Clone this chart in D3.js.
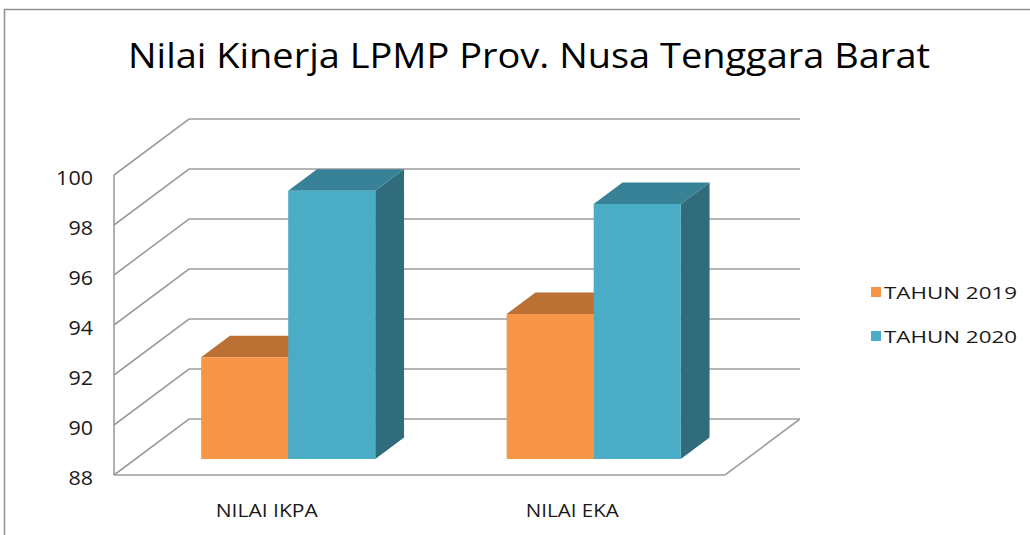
<!DOCTYPE html>
<html>
<head>
<meta charset="utf-8">
<script src="https://cdn.jsdelivr.net/npm/d3@7"></script>
<style>
  html, body { margin: 0; padding: 0; background: #fff; }
  svg { display: block; }
  text { font-family: "Open Sans", "Noto Sans", sans-serif; fill: #1a1a1a; }
</style>
</head>
<body>
<div id="chart"></div>
<script>
// Data
const categories = ["NILAI IKPA", "NILAI EKA"];
const seriesNames = ["TAHUN 2019", "TAHUN 2020"];
const values2019 = [92.07, 93.8];
const values2020 = [98.73, 98.2];
const yTicks = [88, 90, 92, 94, 96, 98, 100];

const colors = {
    "TAHUN 2019": { front: "#F79646", top: "#BA7133", side: "#B66C2E" },
    "TAHUN 2020": { front: "#4BACC6", top: "#378296", side: "#316C7C" }
};

const width = 1030, height = 535;
const svg = d3.select("#chart").append("svg")
    .attr("width", width)
    .attr("height", height);

// outer frame
svg.append("rect")
    .attr("x", 4.5).attr("y", 9.5)
    .attr("width", 1100).attr("height", 600)
    .attr("fill", "none")
    .attr("stroke", "#8f8f8f")
    .attr("stroke-width", 1.5);

// title (reference text is a bit stretched, so fit to its width)
svg.append("text")
    .attr("x", 529).attr("y", 68)
    .attr("text-anchor", "middle")
    .attr("font-size", 34)
    .attr("textLength", 802)
    .attr("lengthAdjust", "spacingAndGlyphs")
    .style("fill", "#000")
    .text("Nilai Kinerja LPMP Prov. Nusa Tenggara Barat");

// scales
const y = d3.scaleLinear().domain([88, 100]).range([475, 175]);
const x0 = d3.scaleBand().domain(categories).range([114, 725]);
const bw = x0.bandwidth();
const groupW = bw * 0.57;
const x1 = d3.scaleBand().domain(seriesNames).range([(bw - groupW) / 2, (bw + groupW) / 2]);

// depth of the 3D box
const DX = 75, DY = 56;
const proj = (x, v, d) => [x + d * DX, y(v) - d * DY];
const [xMin, xMax] = x0.range();
const base = y.domain()[0];

const grid = svg.append("g")
    .attr("stroke", "#9d9d9d")
    .attr("stroke-width", 1.6)
    .attr("fill", "none");

// back wall gridlines + side wall diagonals
yTicks.forEach(t => {
    const a = proj(xMin, t, 0), b = proj(xMin, t, 1), c = proj(xMax, t, 1);
    grid.append("path").attr("d", `M${a}L${b}L${c}`);
});
// side wall front edge
grid.append("path").attr("d", `M${proj(xMin, y.domain()[0], 0)}L${proj(xMin, y.domain()[1], 0)}`);
// floor
grid.append("path")
    .attr("d", `M${proj(xMin, base, 0)}L${proj(xMax, base, 0)}L${proj(xMax, base, 1)}`);

// y tick labels
svg.append("g").selectAll("text")
    .data(yTicks)
    .enter()
    .append("text")
    .attr("x", 93)
    .attr("y", d => y(d) + 2.5)
    .attr("text-anchor", "end")
    .attr("dominant-baseline", "central")
    .attr("font-size", 19.5)
    .attr("textLength", d => String(d).length * 12.3)
    .attr("lengthAdjust", "spacingAndGlyphs")
    .text(d => d);

// bars
const d0 = 0.286, d1 = 0.67;
const rows = [];
categories.forEach((c, i) => {
    rows.push({ cat: c, series: "TAHUN 2019", value: values2019[i] });
    rows.push({ cat: c, series: "TAHUN 2020", value: values2020[i] });
});

const poly = pts => "M" + pts.map(p => p.join(",")).join("L") + "Z";

const bars = svg.append("g")
    .selectAll("g")
    .data(rows)
    .enter()
    .append("g");

bars.append("path")
    .attr("fill", d => colors[d.series].side)
    .attr("d", d => {
        const xr = x0(d.cat) + x1(d.series) + x1.bandwidth();
        return poly([proj(xr, base, d0), proj(xr, d.value, d0), proj(xr, d.value, d1), proj(xr, base, d1)]);
    });
bars.append("path")
    .attr("fill", d => colors[d.series].top)
    .attr("d", d => {
        const xl = x0(d.cat) + x1(d.series), xr = xl + x1.bandwidth();
        return poly([proj(xl, d.value, d0), proj(xr, d.value, d0), proj(xr, d.value, d1), proj(xl, d.value, d1)]);
    });
bars.append("path")
    .attr("fill", d => colors[d.series].front)
    .attr("d", d => {
        const xl = x0(d.cat) + x1(d.series), xr = xl + x1.bandwidth();
        return poly([proj(xl, base, d0), proj(xr, base, d0), proj(xr, d.value, d0), proj(xl, d.value, d0)]);
    });

// category labels
const catWidths = [102, 93];
svg.append("g").selectAll("text")
    .data(categories)
    .enter()
    .append("text")
    .attr("x", d => x0(d) + bw / 2)
    .attr("y", 509.5)
    .attr("text-anchor", "middle")
    .attr("dominant-baseline", "central")
    .attr("font-size", 18)
    .attr("textLength", (d, i) => catWidths[i])
    .attr("lengthAdjust", "spacingAndGlyphs")
    .text(d => d);

// legend
const legend = svg.append("g")
    .selectAll("g")
    .data(seriesNames)
    .enter()
    .append("g")
    .attr("transform", (d, i) => `translate(871, ${292 + i * 44})`);
legend.append("rect")
    .attr("x", 0).attr("y", -5)
    .attr("width", 10).attr("height", 10)
    .attr("fill", d => colors[d].front);
legend.append("text")
    .attr("x", 13)
    .attr("y", 0.5)
    .attr("dominant-baseline", "central")
    .attr("font-size", 17)
    .attr("textLength", 133)
    .attr("lengthAdjust", "spacingAndGlyphs")
    .text(d => d);
</script>
</body>
</html>
